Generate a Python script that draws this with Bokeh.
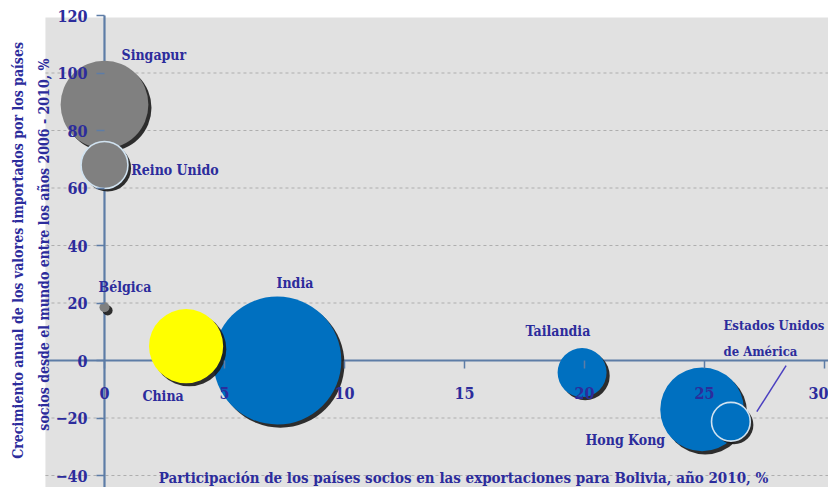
import math
from bokeh.plotting import figure
from bokeh.models import (LinearAxis, FixedTicker, ColumnDataSource, BoxAnnotation)
from bokeh.core.properties import value
from bokeh.transform import dodge
from bokeh.embed import file_html
from bokeh.resources import INLINE

# ---- data ----
paises = ["India", "China", "Singapur", "Reino Unido", "Bélgica", "Tailandia", "Hong Kong", "Estados Unidos de América"]
participacion = [7.2, 3.4, 0.0, 0.0, 0.0, 19.9, 24.9, 26.1]      # % exportaciones Bolivia 2010
crecimiento = [0.0, 5.0, 89.0, 68.0, 18.5, -4.2, -17.0, -21.3]   # % crecimiento anual 2006-2010
magnitud = [164.0, 55.0, 77.0, 22.0, 1.0, 24.0, 70.0, 15.0]      # tamaño relativo de la burbuja
grupo = ["azul", "amarillo", "gris", "gris", "gris", "azul", "azul", "azul"]

x_ticks = [0, 5, 10, 15, 20, 25, 30]
y_ticks = [-40, -20, 0, 20, 40, 60, 80, 100, 120]
grid_y = [-40, -20, 20, 40, 60, 80, 100]

etiquetas = ["Singapur", "Reino Unido", "Bélgica", "India", "China", "Tailandia", "Hong Kong"]
etq_x = [0.71, 1.12, -0.25, 7.17, 1.58, 17.54, 20.04]
etq_y = [106.3, 66.4, 25.4, 26.8, -12.2, 10.1, -27.8]
etiquetas_eeuu = ["Estados Unidos", "de América"]
eeuu_x = [25.79, 25.79]
eeuu_y = [12.2, 3.1]

y_titulo_1 = "Crecimiento anual de los valores importados por los países"
y_titulo_2 = "socios desde el mundo entre los años 2006 - 2010, %"
x_titulo = "Participación de los países socios en las exportaciones para Bolivia, año 2010, %"

# ---- style ----
NAVY = "#2c2c9c"
AXIS = "#5d7ca6"
FONT = "DejaVu Serif Condensed"
colores = {"azul": "#0070c0", "amarillo": "#ffff00", "gris": "#808080"}
X0, X1 = -4.333, 30.167
Y0, Y1 = -44.17, 125.22
GX0, GY1 = -2.46, 119.3

src = ColumnDataSource(dict(
    x=participacion, y=crecimiento,
    size=[10.0 * math.sqrt(m) for m in magnitud],
    color=[colores[g] for g in grupo],
    line=["#d0e2f0" if p in ("Reino Unido", "Estados Unidos de América") else None for p in paises],
))

p = figure(width=828, height=487, output_backend="svg", toolbar_location=None,
           x_range=(X0, X1), y_range=(Y0, Y1),
           x_axis_location=None, y_axis_location=None, min_border=0,
           background_fill_color="white", border_fill_color="white", outline_line_color=None)
p.grid.grid_line_color = None

p.add_layout(BoxAnnotation(left=GX0, top=GY1, fill_color="#e1e1e1", fill_alpha=1.0,
                           line_color=None, level="underlay"))

# grid lines
p.segment(x0=[GX0] * len(grid_y), x1=[X1] * len(grid_y), y0=grid_y, y1=grid_y,
          line_color="#aeaeae", line_width=1.2, line_dash="3 3")
# axis lines (under the bubbles)
p.segment(x0=[0, GX0], x1=[0, X1], y0=[Y0, 0], y1=[120, 0], line_color=AXIS, line_width=2.2)

# bubbles in draw order
orden = ["Singapur", "Reino Unido", "Bélgica", "India", "China", "Tailandia", "Hong Kong", "Estados Unidos de América"]
for nombre in orden:
    i = paises.index(nombre)
    s = ColumnDataSource({k: [v[i]] for k, v in src.data.items()})
    p.scatter(x=dodge("x", 0.13, range=p.x_range), y=dodge("y", -1.1, range=p.y_range),
              size="size", source=s, fill_color="#1a1a1a", line_color=None, fill_alpha=0.9)
    p.scatter(x="x", y="y", size="size", source=s, fill_color="color",
              line_color="line", line_width=1.6)

# leader line for Estados Unidos
iu = paises.index("Estados Unidos de América")
p.segment(x0=[participacion[iu] + 2.3], y0=[crecimiento[iu] + 19.5],
          x1=[participacion[iu] + 1.08], y1=[crecimiento[iu] + 3.5],
          line_color="#4a3fc0", line_width=1.5)

# bubble labels
p.text(x=etq_x, y=etq_y, text=etiquetas, text_font=value(FONT), text_font_style="bold",
       text_font_size="14px", text_color=NAVY, text_baseline="middle", text_align="left")
p.text(x=eeuu_x, y=eeuu_y, text=etiquetas_eeuu, text_font=value(FONT), text_font_style="bold",
       text_font_size="13px", text_color=NAVY, text_baseline="middle", text_align="left")

# axes at fixed location
xa = LinearAxis(fixed_location=0, ticker=FixedTicker(ticks=x_ticks))
xa.axis_line_color = None
xa.major_tick_line_color = AXIS
xa.major_tick_line_width = 1.5
xa.major_tick_out = 8
xa.major_tick_in = 0
xa.minor_tick_line_color = None
xa.major_label_standoff = 18
xa.major_label_text_font = FONT
xa.major_label_text_font_style = "bold"
xa.major_label_text_font_size = "16px"
xa.major_label_text_color = NAVY
p.add_layout(xa, "below")

ya = LinearAxis(fixed_location=0, ticker=FixedTicker(ticks=y_ticks))
ya.axis_line_color = None
ya.major_tick_line_color = AXIS
ya.major_tick_line_width = 1.5
ya.major_tick_out = 8
ya.major_tick_in = 0
ya.minor_tick_line_color = None
ya.major_label_standoff = 9
ya.major_label_text_font = FONT
ya.major_label_text_font_style = "bold"
ya.major_label_text_font_size = "16px"
ya.major_label_text_color = NAVY
p.add_layout(ya, "left")

# axis titles
p.text(x=[-3.62, -2.54], y=[38.3, 40.3], text=[y_titulo_1, y_titulo_2], angle=math.pi / 2,
       text_font=value(FONT), text_font_style="bold", text_font_size="14px",
       text_color=NAVY, text_align="center", text_baseline="middle")
p.text(x=[14.96], y=[-41.0], text=[x_titulo], text_font=value(FONT), text_font_style="bold",
       text_font_size="15px", text_color=NAVY, text_align="center", text_baseline="middle")

open("out.html", "w").write(file_html(p, INLINE))
